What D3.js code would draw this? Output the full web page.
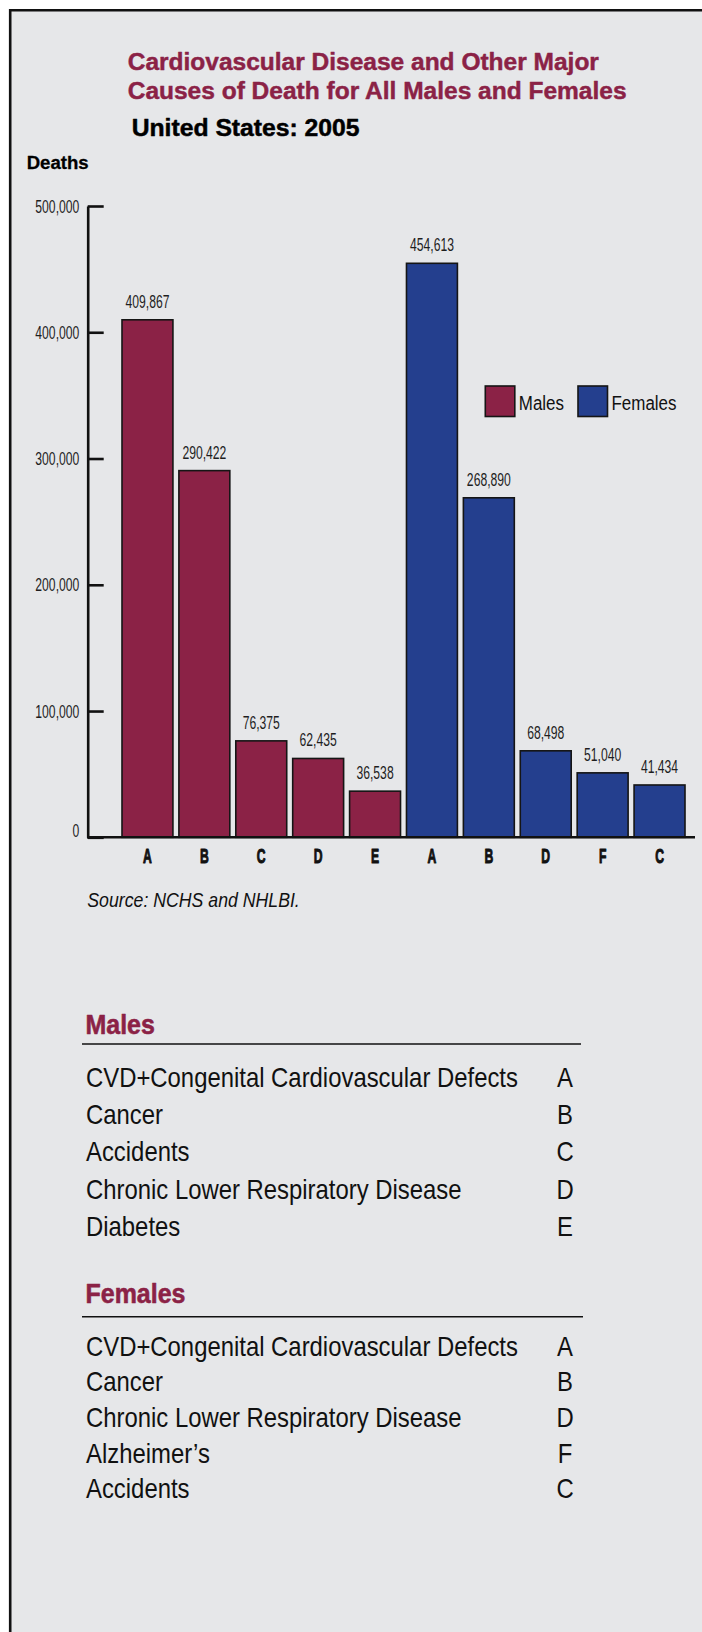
<!DOCTYPE html>
<html>
<head>
<meta charset="utf-8">
<script src="https://cdn.jsdelivr.net/npm/d3@7"></script>
<style>
  html, body { margin: 0; padding: 0; background: #ffffff; }
  svg { display: block; }
</style>
</head>
<body>
<svg id="chart" width="702" height="1632"></svg>
<script>
// ---------------- DATA ----------------
const groups = ["Males", "Females"];
const maleLetters = ["A", "B", "C", "D", "E"];
const maleValues = [409867, 290422, 76375, 62435, 36538];
const femaleLetters = ["A", "B", "D", "F", "C"];
const femaleValues = [454613, 268890, 68498, 51040, 41434];
const maleCauses = ["CVD+Congenital Cardiovascular Defects", "Cancer", "Accidents", "Chronic Lower Respiratory Disease", "Diabetes"];
const femaleCauses = ["CVD+Congenital Cardiovascular Defects", "Cancer", "Chronic Lower Respiratory Disease", "Alzheimer\u2019s", "Accidents"];
const yTicks = [0, 100000, 200000, 300000, 400000, 500000];
const titleLines = ["Cardiovascular Disease and Other Major", "Causes of Death for All Males and Females"];
const subtitle = "United States: 2005";
const yLabel = "Deaths";
const sourceText = "Source: NCHS and NHLBI.";

// ---------------- STYLE ----------------
const MAROON = "#8b2246";
const BLUE = "#243f8e";
const BG = "#e6e7e9";
const FONT = "'Liberation Sans Narrow', 'Liberation Sans', Arial, sans-serif";

const svg = d3.select("#chart");

function styleText(sel, size, weight, italic) {
  return sel.attr("font-family", FONT).attr("font-size", size)
    .attr("font-weight", weight || "normal").attr("font-style", italic ? "italic" : "normal");
}
// heavier look for condensed bold text
function heavy(sel, w) {
  return sel.attr("stroke", function () { return d3.select(this).attr("fill"); })
    .attr("stroke-width", w).attr("stroke-linejoin", "round");
}
// horizontal compression factor so that `sample` at `size` is `target` px wide
function kFor(size, weight, italic, sample, target) {
  const t = styleText(svg.append("text"), size, weight, italic).text(sample);
  const w = t.node().getComputedTextLength();
  t.remove();
  return target / w;
}
// condensed look: smaller font (true width) stretched vertically back to nominal height
function condense(sel, k) {
  sel.each(function () {
    const t = d3.select(this);
    const fs = parseFloat(t.attr("font-size"));
    const x = parseFloat(t.attr("x")) || 0;
    const y = parseFloat(t.attr("y")) || 0;
    t.attr("font-size", fs * k).attr("x", 0).attr("y", 0)
      .attr("transform", `translate(${x},${y}) scale(1,${1 / k})`);
  });
  return sel;
}

// background + frame
svg.append("rect").attr("x", 0).attr("y", 0).attr("width", 702).attr("height", 1632).attr("fill", "#ffffff");
svg.append("rect").attr("x", 10.2).attr("y", 10.2).attr("width", 702).attr("height", 1632).attr("fill", BG);
svg.append("path").attr("d", "M10.2,1632V10.2H702").attr("fill", "none").attr("stroke", "#111").attr("stroke-width", 2.6);

// ---------------- TITLES ----------------
const kTitle = kFor(24, "bold", false, titleLines[1], 499);
titleLines.forEach((s, i) => {
  const t = styleText(svg.append("text"), 24, "bold").attr("x", 127.7).attr("y", 70 + i * 29)
    .attr("fill", MAROON).text(s);
  heavy(condense(t, kTitle), 0.45);
});
const kSub = kFor(23, "bold", false, subtitle, 228);
heavy(condense(styleText(svg.append("text"), 23, "bold").attr("x", 131.7).attr("y", 136).attr("fill", "#000").text(subtitle), kSub), 0.5);
const kDeaths = kFor(17.5, "bold", false, yLabel, 62);
heavy(condense(styleText(svg.append("text"), 17.5, "bold").attr("x", 26.7).attr("y", 169.3).attr("fill", "#000").text(yLabel), kDeaths), 0.3);

// ---------------- SCALES ----------------
const bars = maleValues.map((v, i) => ({ group: groups[0], letter: maleLetters[i], value: v }))
  .concat(femaleValues.map((v, i) => ({ group: groups[1], letter: femaleLetters[i], value: v })));

const x = d3.scaleBand().domain(d3.range(bars.length)).range([122, 685]).paddingInner(0.105).paddingOuter(0);
const y = d3.scaleLinear().domain([0, 500000]).range([837.3, 206]);
const color = d3.scaleOrdinal().domain(groups).range([MAROON, BLUE]);

// ---------------- Y AXIS ----------------
const kNum = kFor(19, "normal", false, "500,000", 44);
const yAxis = svg.append("g").attr("transform", "translate(87.7,0)")
  .call(d3.axisLeft(y).tickValues(yTicks).tickFormat(d3.format(",")).tickSize(-16).tickSizeOuter(0).tickPadding(8.4));
yAxis.select(".domain").attr("stroke", "#111").attr("stroke-width", 2.6);
yAxis.selectAll(".tick line").attr("stroke", "#111").attr("stroke-width", 2.6);
yAxis.selectAll(".tick text").attr("fill", "#1e1e1e").attr("font-family", FONT).attr("font-size", 19)
  .attr("dy", d => d === 0 ? "-0.05em" : "0.32em");
condense(yAxis.selectAll(".tick text"), kNum);

// ---------------- BARS ----------------
svg.append("g").selectAll("rect").data(bars).join("rect")
  .attr("x", (d, i) => x(i))
  .attr("y", d => y(d.value))
  .attr("width", x.bandwidth())
  .attr("height", d => y(0) - y(d.value))
  .attr("fill", d => color(d.group))
  .attr("stroke", "#151515").attr("stroke-width", 1.6);

// value labels
const vl = svg.append("g").selectAll("text").data(bars).join("text")
  .attr("x", (d, i) => x(i) + x.bandwidth() / 2)
  .attr("y", d => y(d.value) - 12)
  .attr("text-anchor", "middle").attr("fill", "#1e1e1e")
  .attr("font-family", FONT).attr("font-size", 19)
  .text(d => d3.format(",")(d.value));
condense(vl, kNum);

// baseline
svg.append("line").attr("x1", 87).attr("x2", 695).attr("y1", y(0)).attr("y2", y(0))
  .attr("stroke", "#111").attr("stroke-width", 2.4);

// x axis letters
const kLet = kFor(21, "bold", false, "D", 8.8);
const xAxis = svg.append("g").attr("transform", `translate(0,${y(0)})`)
  .call(d3.axisBottom(x).tickSize(0).tickPadding(11).tickFormat(i => bars[i].letter));
xAxis.select(".domain").remove();
xAxis.selectAll(".tick text").attr("fill", "#111").attr("font-family", FONT).attr("font-size", 21).attr("font-weight", "bold");
heavy(condense(xAxis.selectAll(".tick text"), kLet), 0.6);

// ---------------- LEGEND ----------------
const kLeg = kFor(21, "normal", false, "Females", 65);
const legendX = [485.3, 578];
const lg = svg.append("g").selectAll("g").data(groups).join("g")
  .attr("transform", (d, i) => `translate(${legendX[i]},386)`);
lg.append("rect").attr("width", 29.5).attr("height", 30.5).attr("fill", d => color(d))
  .attr("stroke", "#151515").attr("stroke-width", 1.6);
const lgt = lg.append("text").attr("x", 33.5).attr("y", 24).attr("fill", "#111")
  .attr("font-family", FONT).attr("font-size", 21).text(d => d);
condense(lgt, kLeg);

// ---------------- SOURCE ----------------
const kSrc = kFor(20.5, "normal", true, sourceText, 212.7);
condense(styleText(svg.append("text"), 20.5, "normal", true).attr("x", 87.3).attr("y", 906.7).attr("fill", "#111").text(sourceText), kSrc);

// ---------------- KEY TABLES ----------------
const kHead = kFor(28, "bold", false, "Females", 100);
const kItem = kFor(28, "normal", false, maleCauses[0], 432);
const tables = [
  { title: groups[0], causes: maleCauses, letters: maleLetters, y0: 1034.3, rule: 1044, ruleEnd: 581, first: 1086.7, step: 37.3 },
  { title: groups[1], causes: femaleCauses, letters: femaleLetters, y0: 1302.7, rule: 1316.7, ruleEnd: 583, first: 1355.7, step: 35.65 }
];
tables.forEach(tb => {
  const g = svg.append("g");
  heavy(condense(styleText(g.append("text"), 28, "bold").attr("x", 85.5).attr("y", tb.y0).attr("fill", MAROON).text(tb.title), kHead), 0.5);
  g.append("line").attr("x1", 82).attr("x2", tb.ruleEnd).attr("y1", tb.rule).attr("y2", tb.rule)
    .attr("stroke", "#111").attr("stroke-width", 1.6);
  const items = g.selectAll("text.item").data(tb.causes).join("text").attr("class", "item")
    .attr("x", 86).attr("y", (d, i) => tb.first + i * tb.step).attr("fill", "#111")
    .attr("font-family", FONT).attr("font-size", 28).text(d => d);
  condense(items, kItem);
  const lets = g.selectAll("text.let").data(tb.letters).join("text").attr("class", "let")
    .attr("x", 565).attr("y", (d, i) => tb.first + i * tb.step).attr("text-anchor", "middle").attr("fill", "#111")
    .attr("font-family", FONT).attr("font-size", 28).text(d => d);
  condense(lets, kItem);
});
</script>
</body>
</html>
